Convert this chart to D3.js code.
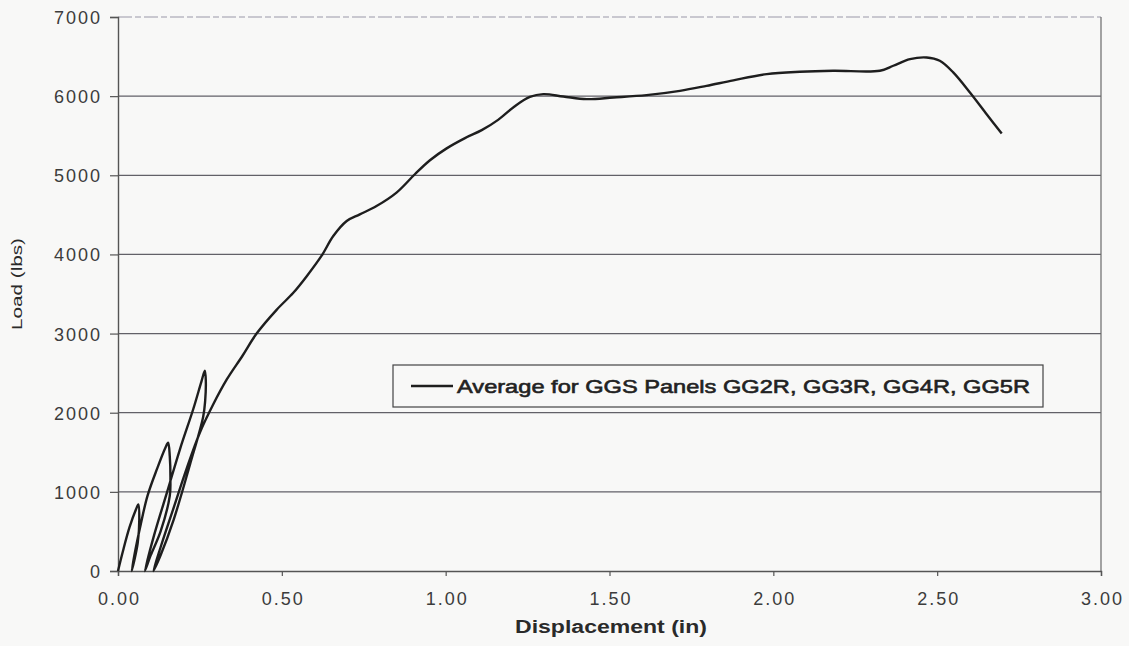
<!DOCTYPE html>
<html>
<head>
<meta charset="utf-8">
<script src="https://cdn.jsdelivr.net/npm/d3@7"></script>
<style>
  body { margin: 0; background: #f8f8f7; }
  svg { display: block; font-family: Arial, "Liberation Sans", sans-serif; }
</style>
</head>
<body>
<div id="chart"></div>
<script>
// displacement (in) and load (lbs), in recording order
const displacement = [
  0, 0.015, 0.035, 0.055, 0.062,
  0.065, 0.06, 0.042,
  0.05, 0.07, 0.09, 0.12, 0.145, 0.153,
  0.158, 0.16, 0.158, 0.13, 0.1, 0.082,
  0.11, 0.15, 0.19, 0.23, 0.255, 0.265,
  0.268, 0.266, 0.26, 0.22, 0.17, 0.13, 0.108,
  0.13, 0.17, 0.21, 0.25, 0.29, 0.332, 0.38, 0.423, 0.484, 0.535, 0.576, 0.622,
  0.657, 0.698, 0.738, 0.789, 0.85, 0.906, 0.952, 1.003, 1.059, 1.11, 1.16, 1.21,
  1.257, 1.298, 1.359, 1.43, 1.512, 1.613, 1.715, 1.796, 1.878, 1.98, 2.081, 2.183,
  2.325, 2.366, 2.417, 2.468, 2.508, 2.549, 2.6, 2.651, 2.697
];
const load = [
  0, 250, 550, 780, 840,
  650, 350, 0,
  200, 600, 950, 1300, 1560, 1620,
  1450, 1150, 950, 500, 200, 0,
  450, 1000, 1550, 2050, 2400, 2530,
  2400, 2150, 1950, 1350, 650, 200, 0,
  300, 800, 1300, 1750, 2100, 2420, 2720, 3000, 3300, 3515, 3725, 3987,
  4232, 4422, 4506, 4611, 4781, 5013, 5190, 5340, 5470, 5570, 5700, 5870,
  5990, 6025, 5996, 5962, 5983, 6013, 6067, 6130, 6200, 6278, 6308, 6321,
  6321, 6384, 6468, 6489, 6447, 6300, 6046, 5772, 5528
];
const xTicks = [0, 0.5, 1.0, 1.5, 2.0, 2.5, 3.0];
const yTicks = [0, 1000, 2000, 3000, 4000, 5000, 6000, 7000];
const seriesName = "Average for GGS Panels GG2R, GG3R, GG4R, GG5R";

const W = 1129, H = 646;
const mLeft = 118, mRight = 1101, mTop = 17, mBottom = 571;

const svg = d3.select("#chart").append("svg")
  .attr("width", W).attr("height", H);

const x = d3.scaleLinear().domain([0, 3]).range([mLeft, mRight]);
const y = d3.scaleLinear().domain([0, 7000]).range([mBottom, mTop]);

// horizontal grid
svg.append("g")
  .selectAll("line")
  .data(yTicks.filter(d => d > 0))
  .join("line")
  .attr("x1", mLeft).attr("x2", mRight)
  .attr("y1", d => y(d)).attr("y2", d => y(d))
  .attr("stroke", d => d === 7000 ? "#9a98a8" : "#626168")
  .attr("stroke-width", d => d === 7000 ? 1 : 1.3)
  .attr("stroke-dasharray", d => d === 7000 ? "14,3,6,3" : null);

// right border
svg.append("line")
  .attr("x1", mRight).attr("x2", mRight).attr("y1", mTop).attr("y2", mBottom)
  .attr("stroke", "#6a6a6a").attr("stroke-width", 1.2);

// axes
const xAxis = svg.append("g")
  .attr("transform", `translate(0,${mBottom})`)
  .call(d3.axisBottom(x).tickValues(xTicks).tickSize(5).tickPadding(16)
    .tickFormat(d3.format(".2f")));
const yAxis = svg.append("g")
  .attr("transform", `translate(${mLeft},0)`)
  .call(d3.axisLeft(y).tickValues(yTicks).tickSize(8).tickPadding(10)
    .tickFormat(d3.format("d")));

[xAxis, yAxis].forEach(g => {
  g.select(".domain").attr("stroke", "#555").attr("stroke-width", 1.4);
  g.selectAll(".tick line").attr("stroke", "#555").attr("stroke-width", 1.2);
  g.selectAll(".tick text")
    .attr("fill", "#3c3c3c")
    .attr("font-size", 18)
    .attr("letter-spacing", "2px");
});
yAxis.selectAll(".tick text").attr("dy", "0.36em").attr("dx", "2px");
xAxis.selectAll(".tick text").attr("dx", "1px");

// curve
const pts = displacement.map((d, i) => [d, load[i]]);
svg.append("path")
  .datum(pts)
  .attr("fill", "none")
  .attr("stroke", "#1e1e1e")
  .attr("stroke-width", 2.4)
  .attr("stroke-linejoin", "round")
  .attr("d", d3.line()
    .x(d => x(d[0]))
    .y(d => y(d[1]))
    .curve(d3.curveCatmullRom.alpha(0.5)));

// legend
const lg = svg.append("g");
lg.append("rect")
  .attr("x", 393).attr("y", 365).attr("width", 650).attr("height", 42)
  .attr("fill", "#f8f8f7").attr("stroke", "#444").attr("stroke-width", 1.2);
lg.append("line")
  .attr("x1", 411).attr("x2", 453).attr("y1", 386).attr("y2", 386)
  .attr("stroke", "#1e1e1e").attr("stroke-width", 2.4);
lg.append("text")
  .attr("x", 457).attr("y", 393)
  .attr("font-size", 19)
  .attr("fill", "#222").attr("stroke", "#222").attr("stroke-width", 0.6)
  .attr("textLength", 573).attr("lengthAdjust", "spacingAndGlyphs")
  .text(seriesName);

// axis titles
svg.append("text")
  .attr("x", 611).attr("y", 633)
  .attr("text-anchor", "middle")
  .attr("font-size", 18).attr("font-weight", "bold")
  .attr("fill", "#2a2a2a")
  .attr("textLength", 192).attr("lengthAdjust", "spacingAndGlyphs")
  .text("Displacement (in)");
svg.append("text")
  .attr("transform", "translate(22,284) rotate(-90)")
  .attr("text-anchor", "middle")
  .attr("font-size", 15)
  .attr("fill", "#2a2a2a")
  .attr("textLength", 92).attr("lengthAdjust", "spacingAndGlyphs")
  .text("Load (lbs)");
</script>
</body>
</html>
